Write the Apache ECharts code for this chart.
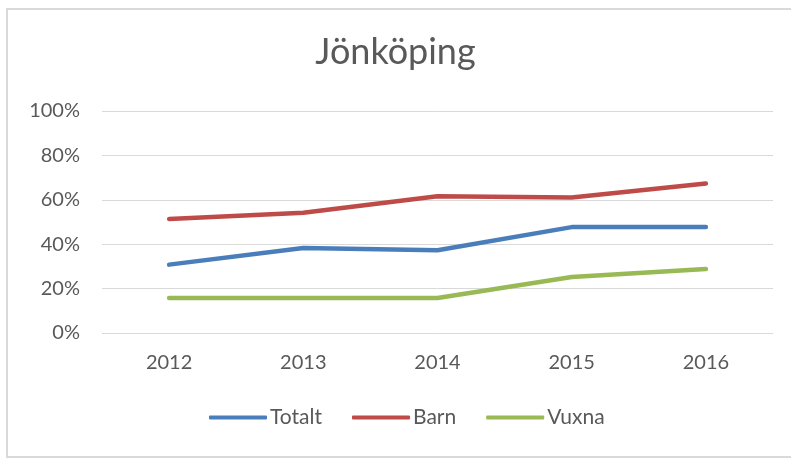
<!DOCTYPE html>
<html>
<head>
<meta charset="utf-8">
<script src="https://cdn.jsdelivr.net/npm/echarts@6/dist/echarts.min.js"></script>
<style>
  html, body { margin: 0; padding: 0; background: #fff; }
  #main { width: 791px; height: 459px; }
</style>
</head>
<body>
<div id="main"></div>
<script>
// data
var years = ['2012', '2013', '2014', '2015', '2016'];
var totalt = [30.8, 38.3, 37.3, 47.7, 47.7];
var barn = [51.4, 54.2, 61.6, 61.0, 67.3];
var vuxna = [15.8, 15.8, 15.8, 25.2, 28.8];

var chart = echarts.init(document.getElementById('main'), null, { renderer: 'canvas' });
var txt = '#595959';

function lineSeries(name, data, color) {
  return {
    name: name,
    type: 'line',
    data: data,
    symbol: 'none',
    lineStyle: { width: 4.5, color: color, cap: 'round', join: 'round' },
    itemStyle: { color: color }
  };
}

var option = {
  backgroundColor: '#fff',
  animation: false,
  textStyle: { fontFamily: 'Lato', color: txt },
  graphic: [{
    type: 'rect',
    shape: { x: 7, y: 9, width: 800, height: 448 },
    style: { fill: 'none', stroke: '#d9d9d9', lineWidth: 2 },
    silent: true
  }],
  title: {
    text: 'Jönköping',
    left: 'center',
    top: 29,
    textStyle: { fontFamily: 'Lato', fontWeight: 'normal', fontSize: 36, color: txt }
  },
  legend: {
    bottom: 26,
    left: 204,
    itemWidth: 58,
    itemHeight: 4,
    itemGap: 30,
    icon: 'roundRect',
    textStyle: { fontFamily: 'Lato', fontSize: 21, color: txt, padding: [0, 0, 0, -2] },
    data: ['Totalt', 'Barn', 'Vuxna']
  },
  grid: { left: 102, right: 18, top: 111, bottom: 126 },
  xAxis: {
    type: 'category',
    data: years,
    axisLine: { show: false },
    axisTick: { show: false },
    axisLabel: { fontFamily: 'Lato', fontSize: 20, color: txt, margin: 20 }
  },
  yAxis: {
    type: 'value',
    min: 0,
    max: 100,
    interval: 20,
    axisLine: { show: false },
    axisTick: { show: false },
    splitLine: { lineStyle: { color: '#d9d9d9', width: 1 } },
    axisLabel: { fontFamily: 'Lato', fontSize: 20, color: txt, margin: 22, formatter: '{value}%' }
  },
  series: [
    lineSeries('Totalt', totalt, '#4a7ebb'),
    lineSeries('Barn', barn, '#be4b48'),
    lineSeries('Vuxna', vuxna, '#98b954')
  ]
};

chart.setOption(option);
</script>
</body>
</html>
